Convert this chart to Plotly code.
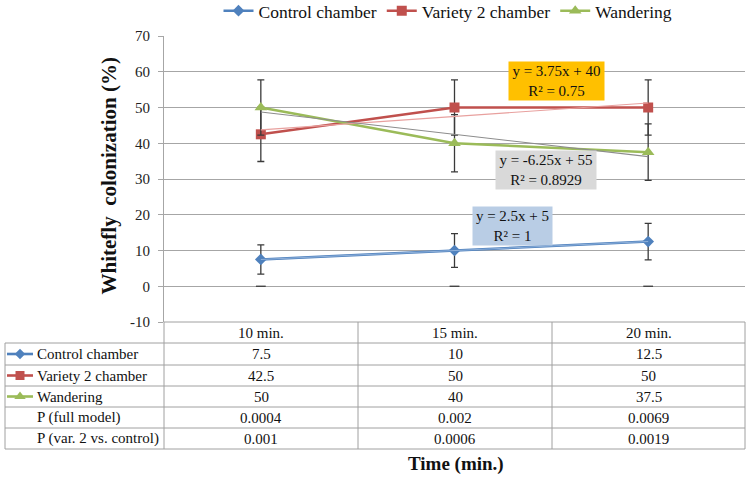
import plotly.graph_objects as go

# ---------------- data ----------------
categories = ["10 min.", "15 min.", "20 min."]
series_names = ["Control chamber", "Variety 2 chamber", "Wandering"]
control = [7.5, 10, 12.5]
variety2 = [42.5, 50, 50]
wandering = [50, 40, 37.5]
control_err = [4.1, 4.7, 5.1]
variety2_err = [7.6, 7.7, 7.7]
wandering_err = [7.7, 8.0, 7.9]
zero_marks = [0, 0, 0]
p_full = ["0.0004", "0.002", "0.0069"]
p_var2 = ["0.001", "0.0006", "0.0019"]
p_labels = ["P (full model)", "P (var. 2 vs. control)"]
trend_slopes = [2.5, 3.75, -6.25]
trend_intercepts = [5, 40, 55]
trend_r2 = ["1", "0.75", "0.8929"]
y_ticks = [-10, 0, 10, 20, 30, 40, 50, 60, 70]

# ---------------- style ----------------
FONT = "Liberation Serif"
colors = ["#4F81BD", "#C0504D", "#9BBB59"]
symbols = ["diamond", "square", "triangle-up"]
msizes = [9, 10, 11]
trend_colors = ["#8EB0DA", "#E8A09E", "#8C8C8C"]
box_colors = ["#B9CDE5", "#FFC000", "#D9D9D9"]
GRID = "#A6A6A6"
ERR = "#3A3A3A"

W, H = 750, 479
PL, PR, PT, PB = 164, 745, 36, 322  # plot area in pixels

values = [control, variety2, wandering]
errors = [control_err, variety2_err, wandering_err]
xs = [1, 2, 3]

fig = go.Figure()

for i in range(3):
    fig.add_trace(go.Scatter(
        x=xs, y=values[i], name=series_names[i], mode="lines+markers",
        line=dict(color=colors[i], width=2.6),
        marker=dict(symbol=symbols[i], size=msizes[i], color=colors[i]),
        error_y=dict(type="data", array=errors[i], color=ERR, thickness=1.3, width=3.5),
        xaxis="x", yaxis="y",
    ))

# zero-level error caps
fig.add_trace(go.Scatter(
    x=xs, y=zero_marks, mode="markers", showlegend=False, hoverinfo="skip",
    marker=dict(symbol="line-ew-open", size=7, color=ERR, line=dict(color=ERR, width=1.3)),
))

# linear trendlines from the displayed equations
for i in range(3):
    tx = [xs[0], xs[-1]]
    ty = [trend_slopes[i] * t + trend_intercepts[i] for t in tx]
    fig.add_trace(go.Scatter(
        x=tx, y=ty, mode="lines", showlegend=False, hoverinfo="skip",
        line=dict(color=trend_colors[i], width=1.1),
    ))

# trendline equation labels
label_pos = [(2.297, 16.8, 75), (2.529, 57.3, 91), (2.472, 32.4, 96)]
for i in range(3):
    s = trend_slopes[i]
    txt = f"y = {s:g}x + {trend_intercepts[i]:g}<br>R² = {trend_r2[i]}"
    lx, ly, lw = label_pos[i]
    fig.add_annotation(x=lx, y=ly, xref="x", yref="y", text=txt, showarrow=False,
                       bgcolor=box_colors[i], width=lw, height=34, borderpad=2,
                       font=dict(family=FONT, size=15, color="#111111"), align="center")

# ---------------- overlay pixel axes for table ----------------
TBL_L = 5
col_edges = [164, 358, 552, 745]
col_centers = [(col_edges[k] + col_edges[k + 1]) / 2 for k in range(3)]
row_edges = [322, 343, 365, 386, 407, 428, 449]
row_centers = [(row_edges[k] + row_edges[k + 1]) / 2 for k in range(6)]

shapes = []
line_style = dict(color="#A0A0A0", width=1)
shapes.append(dict(type="line", xref="x2", yref="y2", x0=164, x1=745, y0=322, y1=322, line=line_style))
for yv in row_edges[1:]:
    shapes.append(dict(type="line", xref="x2", yref="y2", x0=TBL_L, x1=745, y0=yv, y1=yv, line=line_style))
for xv in col_edges:
    shapes.append(dict(type="line", xref="x2", yref="y2", x0=xv, x1=xv, y0=322, y1=449, line=line_style))
shapes.append(dict(type="line", xref="x2", yref="y2", x0=TBL_L, x1=TBL_L, y0=343, y1=449, line=line_style))

tfont = dict(family=FONT, size=15, color="#111111")
for k in range(3):
    fig.add_annotation(x=col_centers[k], y=row_centers[0], xref="x2", yref="y2", text=categories[k],
                       showarrow=False, font=tfont)
rows_text = [[f"{v:g}" for v in control], [f"{v:g}" for v in variety2], [f"{v:g}" for v in wandering], p_full, p_var2]
row_labels = series_names + p_labels
for r in range(5):
    yc = row_centers[r + 1]
    fig.add_annotation(x=35, y=yc, xref="x2", yref="y2", text=row_labels[r], showarrow=False,
                       xanchor="left", font=tfont)
    for k in range(3):
        fig.add_annotation(x=col_centers[k], y=yc, xref="x2", yref="y2", text=rows_text[r][k],
                           showarrow=False, font=tfont)
# legend keys in table
for i in range(3):
    yc = row_centers[i + 1]
    fig.add_trace(go.Scatter(
        x=[7, 33], y=[yc, yc], xaxis="x2", yaxis="y2", mode="lines",
        showlegend=False, hoverinfo="skip", line=dict(color=colors[i], width=2.6),
    ))
    fig.add_trace(go.Scatter(
        x=[20], y=[yc], xaxis="x2", yaxis="y2", mode="markers",
        showlegend=False, hoverinfo="skip",
        marker=dict(symbol=symbols[i], size=msizes[i] - 1, color=colors[i]),
    ))

# axis titles
fig.add_annotation(x=108, y=176.5, xref="x2", yref="y2", text="<b>Whitefly  colonization (%)</b>",
                   textangle=-90, showarrow=False, font=dict(family=FONT, size=21, color="#111111"))
fig.add_annotation(x=456, y=464, xref="x2", yref="y2", text="<b>Time (min.)</b>",
                   showarrow=False, font=dict(family=FONT, size=19, color="#111111"))

fig.update_layout(
    width=W, height=H,
    margin=dict(l=0, r=0, t=0, b=0, autoexpand=False),
    paper_bgcolor="white", plot_bgcolor="rgba(0,0,0,0)",
    shapes=shapes,
    showlegend=True,
    legend=dict(orientation="h", x=448 / W, xanchor="center", y=1.015, yanchor="top",
                font=dict(family=FONT, size=17.5, color="#111111"), bgcolor="rgba(0,0,0,0)",
                itemwidth=30),
    xaxis=dict(domain=[PL / W, PR / W], range=[0.5, 3.5], showgrid=False, zeroline=False,
               showticklabels=False, showline=False, ticks="", anchor="y"),
    yaxis=dict(domain=[1 - PB / H, 1 - PT / H], range=[-10, 70],
               tickvals=y_ticks, ticktext=[str(t) for t in y_ticks],
               showgrid=True, gridcolor=GRID, gridwidth=1, zeroline=False,
               showline=True, linecolor=GRID, linewidth=1, ticks="outside", ticklen=5,
               tickcolor=GRID, ticklabelstandoff=5,
               tickfont=dict(family=FONT, size=15, color="#222222"), anchor="x"),
    xaxis2=dict(domain=[0, 1], range=[0, W], visible=False, anchor="y2"),
    yaxis2=dict(domain=[0, 1], range=[H, 0], visible=False, anchor="x2"),
)

fig.write_html("out.html", config={"displayModeBar": False},
               post_script="document.body.style.margin='0';document.body.style.overflow='hidden';")
